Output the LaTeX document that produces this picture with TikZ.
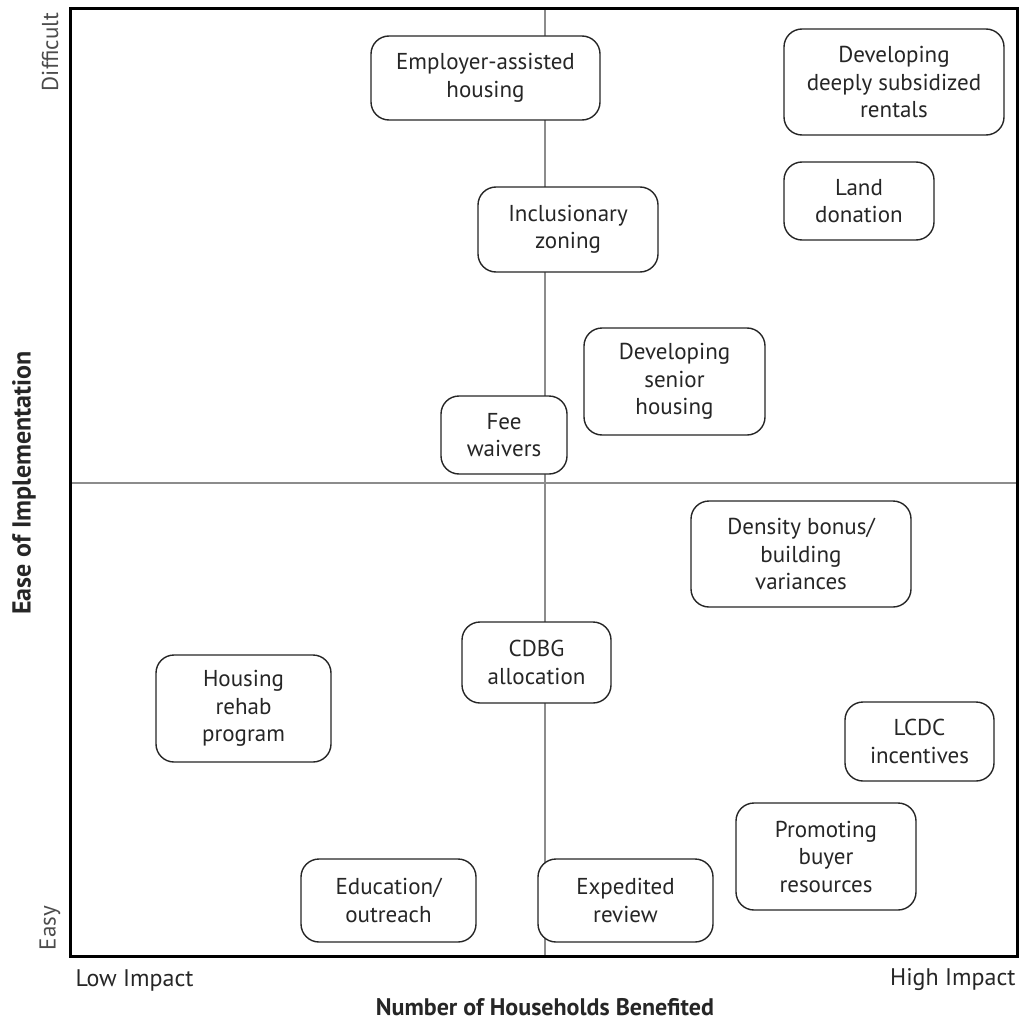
\documentclass[tikz,border=0pt]{standalone}
\usepackage{fontspec}
\setmainfont{PT Sans}
\begin{document}
\begin{tikzpicture}[x=1pt,y=-1pt,
  box/.style={draw=black!85, line width=1.4pt, rounded corners=18pt, fill=white,
    align=center, inner sep=0pt, font=\fontsize{23}{27.5}\selectfont, text=black!85},
  axis/.style={line width=3pt, black},
  mid/.style={line width=1.6pt, black!45},
  endlab/.style={font=\fontsize{23}{26}\selectfont, text=black!70},
  title/.style={font=\fontsize{24}{28}\selectfont\bfseries, text=black!85}]
\useasboundingbox (0,0) rectangle (1025,1022);
% quadrant lines
\coordinate (mt) at (545,9);
\coordinate (mb) at (545,956);
\coordinate (ml) at (70,483);
\coordinate (mr) at (1017,483);
\draw[mid] (mt) -- (mb);
\draw[mid] (ml) -- (mr);
% frame
\coordinate (tl) at (70,9);
\coordinate (br) at (1017,956);
\draw[axis] (tl) rectangle (br);
% boxes
\node[box, minimum width=229pt, minimum height=84pt] (emp) at (485.5,78) {Employer-assisted\\housing};
\node[box, minimum width=220pt, minimum height=106pt] (deep) at (894,82) {Developing\\deeply subsidized\\rentals};
\node[box, minimum width=150pt, minimum height=78pt] (land) at (859,201) {Land\\donation};
\node[box, minimum width=180pt, minimum height=85pt] (incl) at (568,229.5) {Inclusionary\\zoning};
\node[box, minimum width=181pt, minimum height=107pt] (sen) at (674.5,381.5) {Developing\\senior\\housing};
\node[box, minimum width=126pt, minimum height=78pt] (fee) at (504,435) {Fee\\waivers};
\node[box, minimum width=220pt, minimum height=106pt] (dens) at (801,554) {Density bonus/\\building\\variances};
\node[box, minimum width=149pt, minimum height=81pt] (cdbg) at (536.5,662.5) {CDBG\\allocation};
\node[box, minimum width=175pt, minimum height=107pt] (reh) at (243.5,708.5) {Housing\\rehab\\program};
\node[box, minimum width=149pt, minimum height=79pt] (lcdc) at (919.5,741.5) {LCDC\\incentives};
\node[box, minimum width=180pt, minimum height=107pt] (buy) at (826,856.5) {Promoting\\buyer\\resources};
\node[box, minimum width=175pt, minimum height=83pt] (edu) at (388.5,900.5) {Education/\\outreach};
\node[box, minimum width=175pt, minimum height=83pt] (exp) at (625.5,900.5) {Expedited\\review};
% axis labels
\node[endlab, rotate=90] (diff) at (50,52) {Difficult};
\node[endlab, rotate=90] (easy) at (50,928) {Easy};
\node[title, rotate=90, font=\fontsize{26}{30}\selectfont\bfseries] (ease) at (24,483) {Ease of Implementation};
\node[endlab, anchor=west, text=black!85, font=\fontsize{24}{28}\selectfont] (low) at (72,980) {Low Impact};
\node[endlab, anchor=east, text=black!85, font=\fontsize{24}{28}\selectfont] (high) at (1019,980) {High Impact};
\node[title] (num) at (545,1007) {Number of Households Benefited};
\end{tikzpicture}
\end{document}
